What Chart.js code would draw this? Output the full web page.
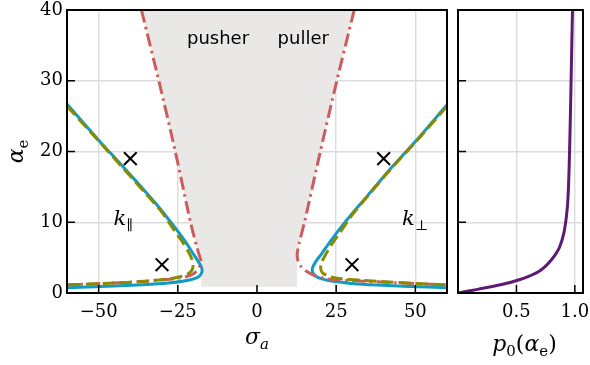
<!DOCTYPE html>
<html>
<head>
<meta charset="utf-8">
<script src="https://cdn.jsdelivr.net/npm/chart.js@4.4.1/dist/chart.umd.min.js"></script>
<style>
  html, body { margin: 0; padding: 0; background: #fff; }
  #wrap { position: relative; width: 590px; height: 365px; }
  canvas { position: absolute; top: 0; }
  #main { left: 0; }
  #side { left: 452px; }
</style>
</head>
<body>
<div id="wrap">
  <canvas id="main" width="452" height="365"></canvas>
  <canvas id="side" width="138" height="365"></canvas>
</div>
<script>
// tick positions
const sigmaTicks = [-50, -25, 0, 25, 50];
const alphaTicks = [0, 10, 20, 30, 40];
const pTicks = [0.5, 1.0];

// solid curves (k_par on the left, k_perp on the right)
const solidParSigma = [-60, -50, -42, -35, -30, -26, -23, -20.5, -18.6, -17.5, -17.4, -18.2, -20, -23, -28, -36, -47, -60];
const solidParAlpha = [26.7, 21.6, 17.7, 14.2, 11.6, 9.3, 7.5, 5.8, 4.5, 3.6, 3.0, 2.4, 2.0, 1.7, 1.42, 1.18, 0.95, 0.75];
const solidPerpSigma = [60, 50, 42, 35, 30, 26, 23, 20.5, 18.5, 17.5, 17.6, 18.5, 20.5, 24, 30, 38, 48, 60];
const solidPerpAlpha = [26.6, 21.4, 17.5, 13.8, 11.2, 9.0, 7.2, 5.6, 4.4, 3.5, 2.9, 2.4, 2.0, 1.65, 1.35, 1.12, 0.92, 0.75];

// dashed curves
const dashedParSigma = [-60, -50, -42, -35, -30, -26.5, -23.5, -21.5, -20.5, -20.2, -20.6, -21.8, -23.5, -27, -31, -37, -45, -52, -60];
const dashedParAlpha = [26.4, 21.5, 17.5, 14.0, 11.4, 9.1, 7.2, 5.7, 4.7, 3.8, 3.2, 2.7, 2.4, 2.05, 1.85, 1.6, 1.4, 1.28, 1.15];
const dashedPerpSigma = [60, 50, 42, 35, 30, 26.3, 23.5, 21.5, 20.4, 20.1, 20.6, 22, 24, 28, 33, 40, 50, 60];
const dashedPerpAlpha = [26.4, 21.3, 17.4, 13.7, 11.0, 8.6, 6.8, 5.3, 4.3, 3.5, 2.9, 2.5, 2.2, 1.95, 1.8, 1.6, 1.35, 1.15];

// dash-dot boundaries
const dashdotParSigma = [-36.5, -31, -25.8, -21, -19, -18, -17.6, -18.3, -19.3, -21, -24.5, -30, -37, -45, -52, -60];
const dashdotParAlpha = [40, 30, 20, 10, 6.5, 5, 4.4, 3.6, 3.0, 2.5, 2.1, 1.85, 1.62, 1.42, 1.28, 1.15];
const dashdotPerpSigma = [30.7, 25.2, 20, 15, 13.3, 12.7, 12.9, 13.8, 15.5, 18, 21, 24, 30, 38, 46, 53, 60];
const dashdotPerpAlpha = [40, 30, 20, 10, 7, 5.5, 4.6, 3.8, 3.1, 2.5, 2.1, 1.9, 1.75, 1.58, 1.4, 1.28, 1.15];

// shaded pusher / puller region
const regionSigma = [-36.5, -31, -25.8, -21, -19, -18, -17.6, -17.6, 12.7, 12.7, 13.3, 15, 20, 25.2, 30.7];
const regionAlpha = [40, 30, 20, 10, 6.5, 5, 4.4, 0.9, 0.9, 5.5, 7, 10, 20, 30, 40];

// crosses
const crossSigma = [-40, -30, 40, 30];
const crossAlpha = [19, 4, 19, 4];

// p0(alpha_e)
const p0Alpha = [0, 0.4, 0.8, 1.3, 1.84, 2.4, 3.0, 3.8, 4.7, 5.6, 6.5, 8.4, 10.8, 13, 16, 20, 25, 30, 35, 40];
const p0Value = [0, 0.13, 0.26, 0.40, 0.517, 0.61, 0.688, 0.75, 0.80, 0.84, 0.87, 0.905, 0.928, 0.94, 0.948, 0.955, 0.962, 0.968, 0.974, 0.98];

const BLUE = '#0f9cc3';
const OLIVE = '#8a8a00';
const RED = '#cd5c5c';
const PURPLE = '#5c1a72';
const GRID = '#dcdcdc';
const SERIF = '"DejaVu Serif"';

const pts = (xs, ys) => xs.map((x, i) => ({ x: x, y: ys[i] }));
const minus = v => (v < 0 ? '\u2212' + Math.abs(v) : String(v));

function curve(xs, ys, color, dash, order) {
  return {
    data: pts(xs, ys),
    showLine: true,
    borderColor: color,
    borderWidth: 3,
    borderDash: dash,
    borderJoinStyle: 'round',
    pointRadius: 0,
    tension: 0.25,
    fill: false,
    order: order
  };
}

// draws a small formula made of pieces [text, size, italic, dy]
function drawMath(ctx, pieces, x, y, align) {
  const fnt = p => (p[2] ? 'italic ' : '') + p[1] + 'px ' + SERIF;
  let w = 0;
  const ws = pieces.map(p => { ctx.font = fnt(p); const m = ctx.measureText(p[0]).width; w += m; return m; });
  let cx = align === 'center' ? x - w / 2 : x;
  ctx.textAlign = 'left';
  ctx.textBaseline = 'alphabetic';
  pieces.forEach((p, i) => {
    ctx.font = fnt(p);
    ctx.fillText(p[0], cx, y + (p[3] || 0));
    cx += ws[i];
  });
}

// frame, inward ticks and annotations
const decor = {
  id: 'decor',
  afterDraw(chart, args, opts) {
    const { ctx, chartArea: a, scales } = chart;
    ctx.save();
    ctx.strokeStyle = '#000';
    ctx.lineWidth = 1.5;
    ctx.beginPath();
    scales.x.ticks.forEach(t => {
      const px = scales.x.getPixelForValue(t.value);
      ctx.moveTo(px, a.bottom); ctx.lineTo(px, a.bottom - 8);
    });
    scales.y.ticks.forEach(t => {
      const py = scales.y.getPixelForValue(t.value);
      ctx.moveTo(a.left, py); ctx.lineTo(a.left + 8, py);
    });
    ctx.stroke();
    ctx.lineWidth = 2;
    ctx.strokeRect(a.left, a.top, a.right - a.left, a.bottom - a.top);
    ctx.fillStyle = '#000';
    if (opts.main) {
      const X = v => scales.x.getPixelForValue(v);
      const Y = v => scales.y.getPixelForValue(v);
      ctx.font = '18px "DejaVu Sans"';
      ctx.textAlign = 'center';
      ctx.textBaseline = 'middle';
      ctx.fillText('pusher', X(-12.3), Y(35.8));
      ctx.fillText('puller', X(14.6), Y(35.8));
      drawMath(ctx, [['k', 21, true], ['\u2225', 14, false, 5]], X(-45.3), Y(9.6), 'left');
      drawMath(ctx, [['k', 21, true], ['\u22a5', 14, false, 5]], X(45.8), Y(9.6), 'left');
      drawMath(ctx, [['\u03c3', 22, true], ['a', 15, true, 5]], (a.left + a.right) / 2, 344, 'center');
      ctx.save();
      ctx.translate(23, (a.top + a.bottom) / 2);
      ctx.rotate(-Math.PI / 2);
      drawMath(ctx, [['\u03b1', 22, true], ['e', 15, false, 5]], 0, 0, 'center');
      ctx.restore();
    } else {
      drawMath(ctx, [['p', 22, true], ['0', 15, false, 5], ['(', 22, false], ['\u03b1', 22, true], ['e', 15, false, 5], [')', 22, false]],
        (a.left + a.right) / 2 + 4, 351, 'center');
    }
    ctx.restore();
  }
};

function axis(min, max, tickVals, size, horizontal, showLabels, fmt) {
  return {
    type: 'linear',
    min: min,
    max: max,
    afterBuildTicks: s => { s.ticks = tickVals.map(v => ({ value: v })); },
    afterFit: s => {
      if (horizontal) s.height = size; else s.width = size;
      s.paddingLeft = s.paddingRight = s.paddingTop = s.paddingBottom = 0;
    },
    border: { display: false },
    grid: { color: GRID, lineWidth: 1.4, drawTicks: false },
    ticks: {
      display: showLabels,
      padding: horizontal ? 9 : 4,
      maxRotation: 0,
      color: '#000',
      font: { family: SERIF, size: 18 },
      callback: fmt
    }
  };
}

const common = {
  responsive: false,
  animation: false,
  events: [],
  plugins: { legend: { display: false }, tooltip: { enabled: false } }
};

new Chart(document.getElementById('main'), {
  type: 'scatter',
  data: {
    datasets: [
      {
        data: pts(regionSigma, regionAlpha),
        showLine: true,
        borderWidth: 0,
        borderColor: 'rgba(0,0,0,0)',
        backgroundColor: '#eae8e6',
        pointRadius: 0,
        tension: 0,
        fill: 'shape',
        order: 9
      },
      curve(solidParSigma, solidParAlpha, BLUE, [], 5),
      curve(solidPerpSigma, solidPerpAlpha, BLUE, [], 5),
      curve(dashdotParSigma, dashdotParAlpha, RED, [13, 4.5, 2.5, 4.5], 4),
      curve(dashdotPerpSigma, dashdotPerpAlpha, RED, [13, 4.5, 2.5, 4.5], 4),
      curve(dashedParSigma, dashedParAlpha, OLIVE, [12, 5], 3),
      curve(dashedPerpSigma, dashedPerpAlpha, OLIVE, [12, 5], 3),
      {
        data: pts(crossSigma, crossAlpha),
        pointStyle: 'crossRot',
        pointRadius: 9,
        borderWidth: 2,
        borderColor: '#000',
        order: 0
      }
    ]
  },
  options: Object.assign({}, common, {
    layout: { autoPadding: false, padding: { top: 10, right: 5, left: 0, bottom: 0 } },
    scales: {
      x: axis(-60, 60, sigmaTicks, 72, true, true, v => minus(v)),
      y: axis(0, 40, alphaTicks, 67, false, true, v => String(v))
    },
    plugins: Object.assign({}, common.plugins, { decor: { main: true } })
  }),
  plugins: [decor]
});

new Chart(document.getElementById('side'), {
  type: 'scatter',
  data: {
    datasets: [curve(p0Value, p0Alpha, PURPLE, [], 1)]
  },
  options: Object.assign({}, common, {
    layout: { autoPadding: false, padding: { top: 10, right: 7, left: 0, bottom: 0 } },
    scales: {
      x: axis(0, 1.07, pTicks, 72, true, true, v => v.toFixed(1)),
      y: axis(0, 40, alphaTicks, 6, false, false, v => String(v))
    },
    plugins: Object.assign({}, common.plugins, { decor: { main: false } })
  }),
  plugins: [decor]
});
</script>
</body>
</html>
